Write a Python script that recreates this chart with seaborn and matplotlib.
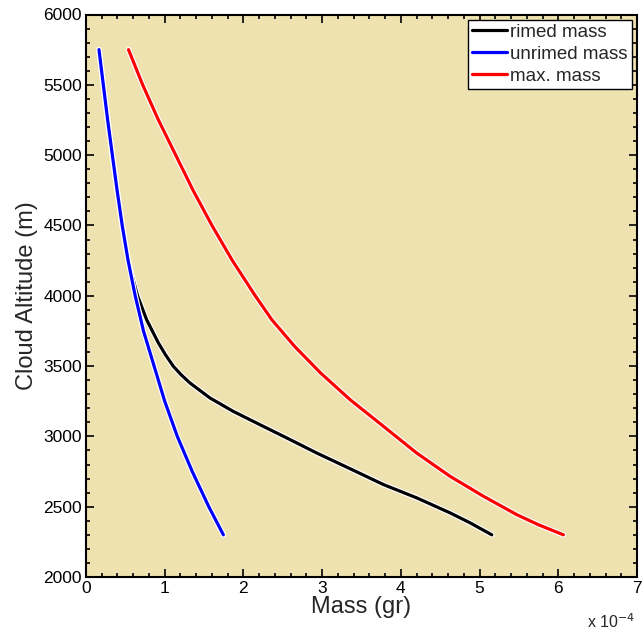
import numpy as np
import pandas as pd
import matplotlib
matplotlib.use("Agg")
import matplotlib.pyplot as plt
import matplotlib.patheffects as pe
from matplotlib.ticker import MultipleLocator
import seaborn as sns

# mass values in units of 1e-4 gr, altitude in m
alt_unrimed = [5750, 5500, 5250, 5000, 4750, 4500, 4250, 4000, 3750, 3500,
               3250, 3000, 2750, 2500, 2300]
mass_unrimed = [0.165, 0.22, 0.275, 0.335, 0.395, 0.46, 0.535, 0.625, 0.73, 0.865,
                1.00, 1.16, 1.35, 1.56, 1.745]

alt_rimed = [5750, 5500, 5250, 5000, 4750, 4500, 4300, 4185, 4000, 3830,
             3664, 3580, 3498, 3440, 3380, 3273, 3178, 3083, 2989, 2882,
             2770, 2657, 2563, 2456, 2385, 2300]
mass_rimed = [0.165, 0.22, 0.275, 0.335, 0.395, 0.46, 0.52, 0.565, 0.655, 0.77,
              0.92, 1.01, 1.11, 1.205, 1.32, 1.575, 1.87, 2.21, 2.55, 2.93,
              3.355, 3.78, 4.20, 4.625, 4.88, 5.155]

alt_max = [5750, 5500, 5250, 5000, 4750, 4500, 4250, 4000, 3830, 3640,
           3451, 3261, 3071, 2882, 2716, 2574, 2444, 2371, 2300]
mass_max = [0.54, 0.72, 0.92, 1.14, 1.36, 1.60, 1.86, 2.15, 2.36, 2.65,
            2.98, 3.355, 3.78, 4.20, 4.625, 5.05, 5.47, 5.75, 6.065]

series = [("rimed mass", mass_rimed, alt_rimed, "black"),
          ("unrimed mass", mass_unrimed, alt_unrimed, "blue"),
          ("max. mass", mass_max, alt_max, "red")]

sns.set_style("ticks")
plt.rcParams['font.family'] = ['Liberation Sans', 'DejaVu Sans']

fig = plt.figure(figsize=(6.42, 6.34), dpi=100)
ax = fig.add_axes([86 / 642, 57 / 634, 551 / 642, 562.5 / 634])
ax.set_facecolor("#EEE2B0")

halo = [pe.Stroke(linewidth=4.0, foreground="white"), pe.Normal()]
for name, m, a, c in series:
    df = pd.DataFrame({"mass": m, "alt": a})
    sns.lineplot(data=df, x="mass", y="alt", sort=False, estimator=None,
                 color=c, linewidth=2.3, label=name, ax=ax, path_effects=halo,
                 solid_joinstyle="round")

ax.set_xlim(0, 7)
ax.set_ylim(2000, 6000)
ax.xaxis.set_major_locator(MultipleLocator(1))
ax.xaxis.set_minor_locator(MultipleLocator(0.2))
ax.yaxis.set_major_locator(MultipleLocator(500))
ax.yaxis.set_minor_locator(MultipleLocator(100))
ax.tick_params(which="both", direction="in", top=True, right=True, width=1.2,
               labelsize=12.5, colors="black", pad=3)
ax.tick_params(which="major", length=5.5)
ax.tick_params(which="minor", length=3)
for s in ax.spines.values():
    s.set_linewidth(1.5)
    s.set_color("black")

ax.set_xlabel("Mass (gr)", fontsize=17, labelpad=0)
ax.set_ylabel("Cloud Altitude (m)", fontsize=17, labelpad=4)
fig.text(0.952, 0.004, r"x 10$^{-4}$", fontsize=11.5, ha="center", va="bottom")

leg = ax.legend(loc="upper right", fontsize=13.5, frameon=True, fancybox=False,
                borderpad=0.2, labelspacing=0.27, handlelength=1.85,
                handletextpad=0.2, borderaxespad=0.28)
leg.get_frame().set_edgecolor("black")
leg.get_frame().set_linewidth(1.0)
leg.get_frame().set_alpha(1)
for line in leg.get_lines():
    line.set_path_effects([])
    line.set_linewidth(2.3)

fig.savefig("out.png", dpi=100)
